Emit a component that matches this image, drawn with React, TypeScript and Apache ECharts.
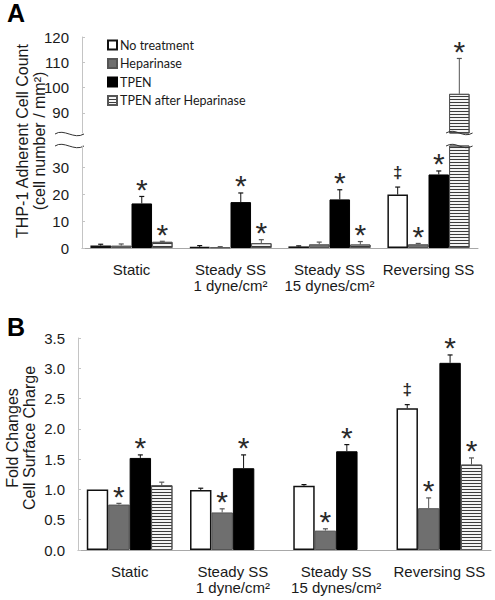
import React, { useEffect, useRef } from "react";
import * as echarts from "echarts";

const categories = ["Static", "Steady SS\n1 dyne/cm²", "Steady SS\n15 dynes/cm²", "Reversing SS"];
const seriesNames = ["No treatment", "Heparinase", "TPEN", "TPEN after Heparinase"];

// Panel A: THP-1 adherent cell count (cell number / mm²)
const aNoTreatment = [0.9, 0.3, 0.6, 19.9];
const aNoTreatmentErr = [0.5, 0.6, 0.2, 2.8];
const aHeparinase = [0.9, 0.2, 1.4, 1.4];
const aHeparinaseErr = [0.6, 0.3, 0.8, 0.3];
const aTPEN = [16.6, 17.1, 18.1, 27.4];
const aTPENErr = [2.6, 3.4, 3.6, 1.3];
const aTAH = [2.3, 1.8, 1.3, 97.5];
const aTAHErr = [0.2, 1.3, 1.1, 14.0];
const aNoTreatmentMarks = ["", "", "", "‡"];
const aHeparinaseMarks = ["", "", "", "*"];
const aTPENMarks = ["*", "*", "*", "*"];
const aTAHMarks = ["*", "*", "*", "*"];
const aLowTicks = [0, 10, 20, 30];
const aHighTicks = [90, 100, 110, 120];
const A_LOW_MAX = 38;
const A_HIGH_MIN = 82;
const A_HIGH_MAX = 120;

// Panel B: fold changes of cell surface charge
const bNoTreatment = [1.0, 0.99, 1.06, 2.34];
const bNoTreatmentErr = [0, 0.03, 0.02, 0.06];
const bHeparinase = [0.75, 0.62, 0.32, 0.69];
const bHeparinaseErr = [0.02, 0.06, 0.03, 0.17];
const bTPEN = [1.52, 1.35, 1.63, 3.09];
const bTPENErr = [0.05, 0.22, 0.11, 0.13];
const bTAH = [1.07, null, null, 1.41];
const bTAHErr = [0.05, null, null, 0.11];
const bNoTreatmentMarks = ["", "", "", "‡"];
const bHeparinaseMarks = ["*", "*", "*", "*"];
const bTPENMarks = ["*", "*", "*", "*"];
const bTAHMarks = ["", "", "", "*"];

const aValues = [aNoTreatment, aHeparinase, aTPEN, aTAH];
const aErrs = [aNoTreatmentErr, aHeparinaseErr, aTPENErr, aTAHErr];
const aMarks = [aNoTreatmentMarks, aHeparinaseMarks, aTPENMarks, aTAHMarks];
const bValues = [bNoTreatment, bHeparinase, bTPEN, bTAH];
const bErrs = [bNoTreatmentErr, bHeparinaseErr, bTPENErr, bTAHErr];
const bMarks = [bNoTreatmentMarks, bHeparinaseMarks, bTPENMarks, bTAHMarks];

const FONT = "Liberation Sans, Arial, sans-serif";
const TEXT = "#1a1a1a";
const GAP = 0.17;

const itemStyles: any[] = [
  { color: "#ffffff", borderColor: "#111111", borderWidth: 1.5 },
  { color: "#6f6f6f", borderColor: "#555555", borderWidth: 1 },
  { color: "#000000", borderColor: "#000000", borderWidth: 1 },
  {
    color: "#f4f4f4",
    borderColor: "#555555",
    borderWidth: 1,
    decal: { symbol: "rect", symbolSize: 1, dashArrayX: [1, 0], dashArrayY: [1, 1.4], rotation: 0, color: "#3c3c3c" },
  },
];
const errColors = ["#111111", "#555555", "#111111", "#555555"];

type Item = { cat: number; slot: number; value: number; top: number; mark: string; mode: "low" | "high" | "plain" };

function buildItems(values: any[][], errs: any[][], marks: string[][], mode: "low" | "high" | "plain"): Item[] {
  const out: Item[] = [];
  values.forEach((vals, slot) => {
    vals.forEach((v: any, cat: number) => {
      if (v == null) return;
      const e = errs[slot][cat] || 0;
      if (mode === "low" && v > A_LOW_MAX) {
        out.push({ cat, slot, value: v, top: v + e, mark: "", mode });
        return;
      }
      if (mode === "high" && v <= A_HIGH_MIN) return;
      out.push({ cat, slot, value: v, top: v + e, mark: marks[slot][cat], mode });
    });
  });
  return out;
}

function makeRender(items: Item[]) {
  return (params: any, api: any) => {
    const it = items[params.dataIndex];
    const band = api.size([1, 0])[0];
    const bw = (band * (1 - GAP)) / 4;
    const cx = api.coord([it.cat, 0])[0] + (it.slot - 1.5) * bw;
    const children: any[] = [];
    const wave = (y: number) => ({
      type: "bezierCurve",
      shape: {
        x1: cx - bw / 2 - 3, y1: y,
        cpx1: cx - bw / 6, cpy1: y - 6,
        cpx2: cx + bw / 6, cpy2: y + 6,
        x2: cx + bw / 2 + 3, y2: y,
      },
      style: { stroke: "#333", lineWidth: 1, fill: null },
      z2: 10,
    });
    if (it.mode === "low" && it.value > A_LOW_MAX) {
      const yb = api.coord([it.cat, A_LOW_MAX])[1];
      children.push(wave(yb));
      return { type: "group", children };
    }
    if (it.mode === "high") {
      const yb = api.coord([it.cat, A_HIGH_MIN])[1];
      children.push(wave(yb));
    }
    const yv = api.coord([it.cat, it.value])[1];
    const yt = api.coord([it.cat, it.top])[1];
    if (it.top > it.value) {
      children.push({
        type: "line",
        shape: { x1: cx, y1: yv, x2: cx, y2: yt },
        style: { stroke: errColors[it.slot], lineWidth: 1 },
      });
      children.push({
        type: "line",
        shape: { x1: cx - 2.5, y1: yt, x2: cx + 2.5, y2: yt },
        style: { stroke: errColors[it.slot], lineWidth: 1.2 },
      });
    }
    if (it.mark) {
      const star = it.mark === "*";
      children.push({
        type: "text",
        x: cx,
        y: star ? yt - 14 + 7 : yt - 15,
        style: {
          text: it.mark,
          fill: "#2a2a2a",
          font: star ? `30px ${FONT}` : `bold 17px ${FONT}`,
          align: "center",
          verticalAlign: "middle",
        },
      });
    }
    return { type: "group", children };
  };
}

export default function App() {
  const ref = useRef<HTMLDivElement>(null);
  useEffect(() => {
    if (!ref.current) return;
    const chart = echarts.init(ref.current, null, { renderer: "svg" });

    const grids = [
      { left: 82, top: 37, width: 396, height: 96 },
      { left: 82, top: 146, width: 396, height: 102 },
      { left: 78, top: 338, width: 413, height: 212 },
    ];

    const axisLabelX = {
      interval: 0,
      fontFamily: FONT,
      fontSize: 15,
      lineHeight: 16,
      margin: 13,
      color: TEXT,
    };
    const xAxis: any[] = [
      { type: "category", gridIndex: 0, data: categories, show: false },
      {
        type: "category", gridIndex: 1, data: categories,
        axisLine: { lineStyle: { color: "#a8a8a8", width: 1 } },
        axisTick: { inside: true, length: 3, lineStyle: { color: "#a8a8a8" } },
        axisLabel: axisLabelX,
      },
      {
        type: "category", gridIndex: 2, data: categories,
        axisLine: { lineStyle: { color: "#a8a8a8", width: 1 } },
        axisTick: { inside: true, length: 3, lineStyle: { color: "#a8a8a8" } },
        axisLabel: axisLabelX,
      },
    ];
    const yBase = {
      type: "value",
      splitLine: { show: false },
      axisLine: { show: true, lineStyle: { color: "#c4c4c4", width: 1 } },
      axisTick: { show: true, inside: true, length: 3, lineStyle: { color: "#c4c4c4" } },
    };
    const yLabel = { fontFamily: FONT, fontSize: 15, color: TEXT, margin: 13 };
    const yAxis: any[] = [
      {
        ...yBase, gridIndex: 0, min: A_HIGH_MIN, max: A_HIGH_MAX,
        axisLabel: { ...yLabel, customValues: aHighTicks },
        axisTick: { ...yBase.axisTick, customValues: aHighTicks },
      },
      {
        ...yBase, gridIndex: 1, min: 0, max: A_LOW_MAX,
        axisLabel: { ...yLabel, customValues: aLowTicks },
        axisTick: { ...yBase.axisTick, customValues: aLowTicks },
      },
      {
        ...yBase, gridIndex: 2, min: 0, max: 3.5, interval: 0.5,
        axisLabel: { ...yLabel, formatter: (v: number) => v.toFixed(1) },
      },
    ];

    const series: any[] = [];
    const barCommon = { type: "bar", barGap: "0%", barCategoryGap: "17%", clip: true };
    seriesNames.forEach((name, s) => {
      series.push({
        ...barCommon, name, xAxisIndex: 0, yAxisIndex: 0,
        data: aValues[s].map((v: any) => (v != null && v > A_HIGH_MIN ? v : null)),
        itemStyle: itemStyles[s],
      });
      series.push({
        ...barCommon, name, xAxisIndex: 1, yAxisIndex: 1,
        data: aValues[s], itemStyle: itemStyles[s],
      });
      series.push({
        ...barCommon, name, xAxisIndex: 2, yAxisIndex: 2,
        data: bValues[s], itemStyle: itemStyles[s],
      });
    });

    const itemsHigh = buildItems(aValues, aErrs, aMarks, "high");
    const itemsLow = buildItems(aValues, aErrs, aMarks, "low");
    const itemsB = buildItems(bValues, bErrs, bMarks, "plain");
    const customs: [Item[], number][] = [[itemsHigh, 0], [itemsLow, 1], [itemsB, 2]];
    customs.forEach(([items, idx]) => {
      series.push({
        type: "custom",
        xAxisIndex: idx,
        yAxisIndex: idx,
        z: 5,
        clip: false,
        silent: true,
        renderItem: makeRender(items),
        encode: { x: 0, y: 1 },
        data: items.map((it) => [it.cat, Math.min(it.value, idx === 1 ? A_LOW_MAX : it.value)]),
      });
    });

    const axisWave = (y: number) => ({
      type: "bezierCurve",
      shape: { x1: 55, y1: y, cpx1: 64, cpy1: y - 6, cpx2: 74, cpy2: y + 6, x2: 84, y2: y },
      style: { stroke: "#333", lineWidth: 1, fill: null },
    });

    const titleText = (x: number, y: number, text: string) => ({
      type: "text",
      x,
      y,
      rotation: Math.PI / 2,
      style: { text, font: `16px ${FONT}`, fill: TEXT, align: "center", verticalAlign: "middle" },
    });

    chart.setOption({
      animation: false,
      backgroundColor: "#ffffff",
      grid: grids,
      xAxis,
      yAxis,
      legend: {
        data: seriesNames,
        orient: "vertical",
        left: 102,
        top: 33,
        icon: "rect",
        itemWidth: 9,
        itemHeight: 9,
        itemGap: 4.5,
        selectedMode: false,
        textStyle: { fontFamily: "Lato, sans-serif", fontSize: 12.5, color: TEXT, lineHeight: 14, padding: [0, 0, 0, -2] },
      },
      series,
      graphic: [
        { type: "text", x: 7, y: 13, style: { text: "A", font: `bold 25px ${FONT}`, fill: "#000", verticalAlign: "middle" } },
        { type: "text", x: 7, y: 327, style: { text: "B", font: `bold 25px ${FONT}`, fill: "#000", verticalAlign: "middle" } },
        titleText(22, 141, "THP-1 Adherent Cell Count"),
        titleText(39, 141, "(cell number / mm²)"),
        titleText(12, 438, "Fold Changes"),
        titleText(29, 438, "Cell Surface Charge"),
        axisWave(134),
        axisWave(146),
      ],
    });

    return () => chart.dispose();
  }, []);

  return (
    <div
      ref={ref}
      style={{ position: "fixed", left: 0, top: 0, width: 495, height: 600, background: "#fff" }}
    />
  );
}
